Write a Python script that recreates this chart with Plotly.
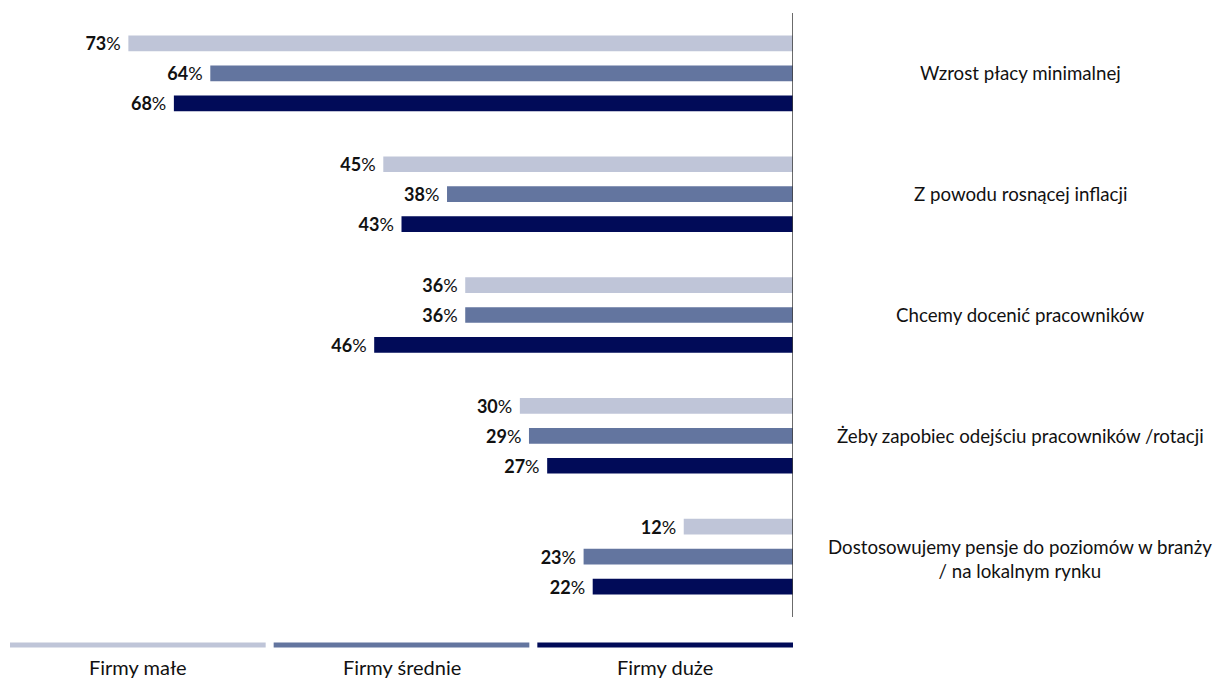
import plotly.graph_objects as go

# Reasons for pay rises, share of firms by size (%)
categories = [
    "Wzrost płacy minimalnej",
    "Z powodu rosnącej inflacji",
    "Chcemy docenić pracowników",
    "Żeby zapobiec odejściu pracowników /rotacji",
    "Dostosowujemy pensje do poziomów w branży<br>/ na lokalnym rynku",
]
series_names = ["Firmy małe", "Firmy średnie", "Firmy duże"]
firmy_male = [73, 45, 36, 30, 12]
firmy_srednie = [64, 38, 36, 29, 23]
firmy_duze = [68, 43, 46, 27, 22]

series_values = [firmy_male, firmy_srednie, firmy_duze]
colors = ["#BFC5D8", "#63759F", "#010B58"]

FONT = "Lato, 'Open Sans', sans-serif"

fig = go.Figure()
for name, vals, col in zip(series_names, series_values, colors):
    fig.add_trace(go.Bar(
        y=categories,
        x=vals,
        name=name,
        orientation="h",
        marker=dict(color=col, line=dict(width=0)),
        texttemplate="<b>%{x}</b>%\u00a0",
        textposition="outside",
        textfont=dict(family=FONT, size=18, color="#111111"),
        constraintext="none",
        cliponaxis=False,
        showlegend=False,
        hoverinfo="skip",
    ))

W, H = 1215, 681
left, right_edge = 10, 793
top, bottom = 12.5, 617.5

fig.update_layout(
    width=W, height=H,
    margin=dict(l=left, r=W - right_edge, t=top, b=H - bottom, autoexpand=False),
    paper_bgcolor="white",
    plot_bgcolor="white",
    barmode="group",
    bargap=0.256,
    bargroupgap=0.477,
    font=dict(family=FONT, size=18, color="#111111"),
    xaxis=dict(range=[86, 0], visible=False, fixedrange=True),
    yaxis=dict(range=[4.5, -0.5], visible=False, fixedrange=True),
)

# vertical baseline at 0%
fig.add_shape(type="line", xref="x", yref="paper", x0=0, x1=0, y0=0, y1=1,
              line=dict(color="#3a3a3a", width=1.5))

# category labels on the right
label_x = (1020 - left) / (right_edge - left)
for i, cat in enumerate(categories):
    fig.add_annotation(x=label_x, xref="paper", y=cat, yref="y", text=cat,
                       showarrow=False, align="center", xanchor="center",
                       yshift=-2 if "<br>" in cat else 0,
                       font=dict(family=FONT, size=18.7, color="#111111"))

# legend along the bottom: a thick bar per series with its name underneath
gap = 8 / (right_edge - left)
seg = (1 - 2 * gap) / 3
line_y = (bottom - 645.5) / (bottom - top)
text_y = (bottom - 668) / (bottom - top)
for i, (name, col) in enumerate(zip(series_names, colors)):
    x0 = i * (seg + gap)
    x1 = x0 + seg
    fig.add_shape(type="line", xref="paper", yref="paper", x0=x0, x1=x1,
                  y0=line_y, y1=line_y, line=dict(color=col, width=5))
    fig.add_annotation(x=(x0 + x1) / 2, xref="paper", y=text_y, yref="paper",
                       text=name, showarrow=False, xanchor="center", yanchor="middle",
                       font=dict(family=FONT, size=20, color="#111111"))

fig.write_html("out.html")
